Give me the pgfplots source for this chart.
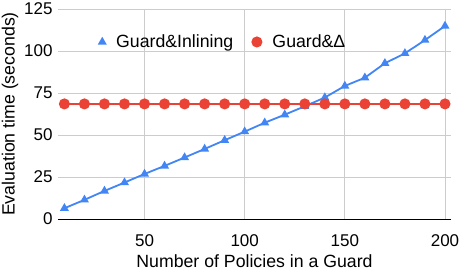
\documentclass[border=0pt]{standalone}
\usepackage{fontspec}
\setmainfont{Liberation Sans}
\usepackage{pgfplots}
\pgfplotsset{compat=1.18}
\definecolor{gblue}{HTML}{4285F4}
\definecolor{gred}{HTML}{EA4335}
\definecolor{ggrid}{HTML}{CCCCCC}
\begin{document}
\begin{tikzpicture}
\useasboundingbox (-58pt,-56pt) rectangle (403pt,219pt);
\begin{axis}[
  scale only axis,
  width=393pt, height=210pt,
  xmin=6.8, xmax=203, ymin=0, ymax=125,
  xtick={50,100,150,200},
  ytick={0,25,50,75,100,125},
  grid=major,
  major grid style={ggrid, line width=0.8pt},
  separate axis lines,
  axis x line*=bottom,
  axis y line*=left,
  x axis line style={black, line width=0.8pt},
  y axis line style={draw=none},
  major tick length=0pt,
  /pgf/number format/assume math mode=true,
  ticklabel style={font=\fontsize{17}{19}\selectfont},
  label style={font=\fontsize{17.7}{20}\selectfont},
  xlabel={Number of Policies in a Guard},
  ylabel={Evaluation time (seconds)},
  xticklabel style={yshift=-12pt},
  yticklabel style={xshift=-2pt},
  xlabel style={yshift=-1pt},
  ylabel style={yshift=-1pt},
  legend columns=2,
  legend style={draw=none, fill=none, at={(0.097,0.843)}, anchor=west,
    font=\fontsize{17.7}{20}\selectfont,
    /tikz/every odd column/.append style={column sep=9pt},
    /tikz/every even column/.append style={column sep=17pt}},
  legend image code/.code={\draw[#1,only marks] plot coordinates {(0.15cm,0cm)};},
]
\addplot[gblue, line width=1.8pt, mark=triangle*, mark size=3.4pt] coordinates {
(10,6.4) (20,11.4) (30,16.7) (40,21.7) (50,26.8) (60,31.6) (70,36.6) (80,41.7)
(90,46.9) (100,52.0) (110,57.3) (120,62.1) (130,67.1) (140,72.3) (150,79.2)
(160,84.1) (170,92.7) (180,98.6) (190,106.5) (200,114.9)};
\addlegendentry{Guard\&Inlining}
\addplot[gred, line width=1.8pt, mark=*, mark size=4.6pt] coordinates {
(10,68.5) (20,68.5) (30,68.5) (40,68.5) (50,68.5) (60,68.5) (70,68.5) (80,68.5)
(90,68.5) (100,68.5) (110,68.5) (120,68.5) (130,68.5) (140,68.5) (150,68.5)
(160,68.5) (170,68.5) (180,68.5) (190,68.5) (200,68.5)};
\addlegendentry{Guard\&Δ}
\end{axis}
\end{tikzpicture}
\end{document}
